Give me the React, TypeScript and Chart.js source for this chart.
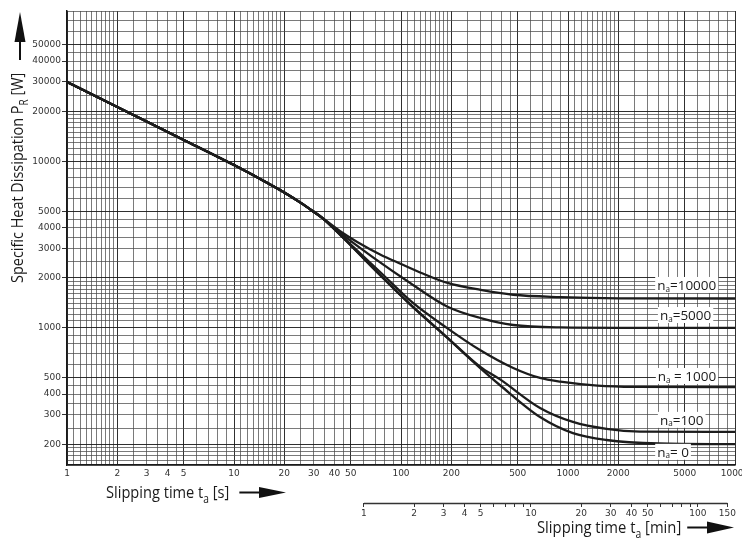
import React, { useEffect, useRef } from 'react';
import { Chart, registerables } from 'chart.js';

Chart.register(...registerables);

// ---- axis ranges and tick labels ----
const X_MIN = 1;
const X_MAX = 10000;
const Y_MIN = 150;
const Y_MAX = 80000;
const X_LABELS = [1, 2, 3, 4, 5, 10, 20, 30, 40, 50, 100, 200, 500, 1000, 2000, 5000, 10000];
const Y_LABELS = [200, 300, 400, 500, 1000, 2000, 3000, 4000, 5000, 10000, 20000, 30000, 40000, 50000];
const MIN_TICKS = [1, 2, 3, 4, 5, 6, 7, 8, 9, 10, 20, 30, 40, 50, 60, 70, 80, 90, 100, 150];
const MIN_LABELS = [1, 2, 3, 4, 5, 10, 20, 30, 40, 50, 100, 150];
const GRID_MANTISSA = [1, 1.1, 1.2, 1.3, 1.4, 1.5, 1.6, 1.7, 1.8, 1.9, 2, 2.5, 3, 3.5, 4, 4.5, 5, 6, 7, 8, 9];
const MAJOR_MANTISSA = [1, 2, 5];
const X_DECADES = [1, 10, 100, 1000, 10000];
const Y_DECADES = [100, 1000, 10000];

// ---- series (slipping time t [s], heat dissipation P [W]) ----
const COMMON_T = [1, 2, 5, 10, 15, 20, 25, 30, 34];
const COMMON_P = [30000, 21200, 13450, 9500, 7650, 6500, 5650, 4980, 4550];

const N10000_T = [43, 55, 75, 100, 135, 190, 300, 470, 900, 2000, 10000];
const N10000_P = [3820, 3270, 2760, 2420, 2120, 1860, 1690, 1580, 1530, 1505, 1500];

const N5000_T = [45, 68, 110, 190, 300, 470, 900, 2000, 10000];
const N5000_P = [3600, 2650, 1900, 1340, 1145, 1040, 1005, 1000, 1000];

const N1000_T = [45, 75, 118, 188, 297, 470, 680, 900, 1500, 2500, 10000];
const N1000_P = [3500, 2165, 1410, 1000, 736, 574, 500, 475, 450, 442, 440];

const N100_T = [45, 75, 118, 188, 297, 392, 680, 1070, 1700, 2700, 10000];
const N100_P = [3480, 2080, 1335, 880, 585, 490, 330, 272, 247, 238, 237];

const N0_T = [45, 75, 118, 188, 297, 392, 680, 1070, 1700, 3500, 10000];
const N0_P = [3480, 2070, 1330, 875, 575, 452, 291, 233, 212, 202, 200];

// ---- curve labels (anchor in data units) ----
const LABEL_TEXT = ['=10000', '=5000', ' = 1000', '=100', '= 0'];
const LABEL_T = [3420, 3550, 3450, 3550, 3420];
const LABEL_P = [1809, 1194, 514, 280, 180];

const SERIES = [
  { name: 'n=10000', t: N10000_T, p: N10000_P },
  { name: 'n=5000', t: N5000_T, p: N5000_P },
  { name: 'n=1000', t: N1000_T, p: N1000_P },
  { name: 'n=100', t: N100_T, p: N100_P },
  { name: 'n=0', t: N0_T, p: N0_P },
];

const TEXT_FAMILY = "'Open Sans', 'Noto Sans', sans-serif";
const TICK_FAMILY = "'DejaVu Sans', sans-serif";

function buildGrid(decades: number[], min: number, max: number) {
  const out: number[] = [];
  decades.forEach((d) => GRID_MANTISSA.forEach((m) => {
    const v = +(d * m).toPrecision(6);
    if (v >= min && v <= max) out.push(v);
  }));
  if (!out.includes(max)) out.push(max);
  if (!out.includes(min)) out.unshift(min);
  return out.sort((a, b) => a - b);
}

function isMajor(v: number) {
  const e = Math.floor(Math.log10(v) + 1e-9);
  const m = +(v / Math.pow(10, e)).toPrecision(4);
  return MAJOR_MANTISSA.includes(m);
}

const X_GRID = buildGrid(X_DECADES, X_MIN, X_MAX);
const Y_GRID = buildGrid(Y_DECADES, Y_MIN, Y_MAX);

type Part = { text: string; sub?: boolean };

function measureRich(ctx: CanvasRenderingContext2D, parts: Part[], size: number, subScale = 0.7) {
  let w = 0;
  for (const p of parts) {
    ctx.font = `${p.sub ? size * subScale : size}px ${TEXT_FAMILY}`;
    w += ctx.measureText(p.text).width;
  }
  return w;
}

function drawRich(
  ctx: CanvasRenderingContext2D, parts: Part[], x: number, y: number, size: number, sx: number,
  rot = 0, subScale = 0.7, subShift = 0.3,
) {
  ctx.save();
  ctx.translate(x, y);
  if (rot) ctx.rotate(rot);
  ctx.scale(sx, 1);
  ctx.textBaseline = 'alphabetic';
  ctx.textAlign = 'left';
  let cx = 0;
  for (const p of parts) {
    const fs = p.sub ? size * subScale : size;
    ctx.font = `${fs}px ${TEXT_FAMILY}`;
    ctx.fillText(p.text, cx, p.sub ? size * subShift : 0);
    cx += ctx.measureText(p.text).width;
  }
  ctx.restore();
  return cx * sx;
}

function arrowRight(ctx: CanvasRenderingContext2D, x0: number, x1: number, y: number, head: number, half: number) {
  ctx.save();
  ctx.strokeStyle = '#111';
  ctx.fillStyle = '#111';
  ctx.lineWidth = 2;
  ctx.beginPath();
  ctx.moveTo(x0, y);
  ctx.lineTo(x1 - head + 2, y);
  ctx.stroke();
  ctx.beginPath();
  ctx.moveTo(x1 - head, y - half);
  ctx.lineTo(x1, y);
  ctx.lineTo(x1 - head, y + half);
  ctx.closePath();
  ctx.fill();
  ctx.restore();
}

function arrowUp(ctx: CanvasRenderingContext2D, x: number, y0: number, y1: number, head: number, half: number) {
  ctx.save();
  ctx.strokeStyle = '#111';
  ctx.fillStyle = '#111';
  ctx.lineWidth = 2;
  ctx.beginPath();
  ctx.moveTo(x, y0);
  ctx.lineTo(x, y1 + head - 2);
  ctx.stroke();
  ctx.beginPath();
  ctx.moveTo(x - half, y1 + head);
  ctx.lineTo(x, y1);
  ctx.lineTo(x + half, y1 + head);
  ctx.closePath();
  ctx.fill();
  ctx.restore();
}

const annotations = {
  id: 'annotations',
  afterDatasetsDraw(chart: any) {
    const ctx: CanvasRenderingContext2D = chart.ctx;
    const xs = chart.scales.x;
    const ys = chart.scales.y;
    const size = 13.5;
    LABEL_TEXT.forEach((txt, i) => {
      const px = xs.getPixelForValue(LABEL_T[i]);
      const py = ys.getPixelForValue(LABEL_P[i]);
      const parts: Part[] = [{ text: 'n' }, { text: 'a', sub: true }, { text: txt }];
      const w = measureRich(ctx, parts, size, 0.6);
      ctx.save();
      ctx.fillStyle = '#fff';
      ctx.fillRect(px - 2, py - 8, w + 4, 16);
      ctx.fillStyle = '#1a1a1a';
      drawRich(ctx, parts, px, py + 5, size, 1, 0, 0.6, 0.12);
      ctx.restore();
    });
  },
  afterDraw(chart: any) {
    const ctx: CanvasRenderingContext2D = chart.ctx;
    const area = chart.chartArea;
    const xs = chart.scales.x;
    const xm = chart.scales.xm;

    // minutes axis line
    ctx.save();
    ctx.strokeStyle = '#333';
    ctx.lineWidth = 1.3;
    ctx.beginPath();
    ctx.moveTo(xm.getPixelForValue(1), Math.round(xm.top) + 0.5);
    ctx.lineTo(xm.getPixelForValue(150), Math.round(xm.top) + 0.5);
    ctx.stroke();
    ctx.restore();

    ctx.save();
    ctx.fillStyle = '#1a1a1a';
    // y title
    drawRich(
      ctx,
      [{ text: 'Specific Heat Dissipation P' }, { text: 'R', sub: true }, { text: ' [W]' }],
      23, 283, 17, 0.85, -Math.PI / 2,
    );
    arrowUp(ctx, 20, 60, 12, 30, 5.5);

    // seconds title
    const sEnd = drawRich(
      ctx,
      [{ text: 'Slipping time t' }, { text: 'a', sub: true }, { text: ' [s]' }],
      area.left + 39, xs.top + 33, 17, 0.86,
    );
    arrowRight(ctx, area.left + 39 + sEnd + 10, area.left + 219, xs.top + 27.5, 27, 5.5);

    // minutes title
    const mEnd = drawRich(
      ctx,
      [{ text: 'Slipping time t' }, { text: 'a', sub: true }, { text: ' [min]' }],
      537, xm.top + 30, 17, 0.87,
    );
    arrowRight(ctx, 537 + mEnd + 6, area.right - 1, xm.top + 24.5, 27, 6);
    ctx.restore();
  },
};

function gridColor(ctx: any) {
  const v = ctx.tick ? ctx.tick.value : 0;
  return isMajor(v) ? 'rgba(25,25,25,0.9)' : 'rgba(70,70,70,0.72)';
}

export default function App() {
  const ref = useRef<HTMLCanvasElement>(null);

  useEffect(() => {
    const canvas = ref.current;
    if (!canvas) return;
    const chart = new Chart(canvas, {
      type: 'line',
      data: {
        datasets: SERIES.map((s) => {
          const ts = [...COMMON_T, ...s.t];
          const ps = [...COMMON_P, ...s.p];
          return {
            label: s.name,
            data: ts.map((t, i) => ({ x: t, y: ps[i] })),
            borderColor: '#1c1c1c',
            borderWidth: 2.3,
            pointRadius: 0,
            fill: false,
            cubicInterpolationMode: 'monotone',
          };
        }),
      },
      options: {
        responsive: false,
        animation: false,
        devicePixelRatio: 1,
        events: [],
        layout: { padding: { left: 0, right: 7, top: 11, bottom: 0 } },
        plugins: {
          legend: { display: false },
          tooltip: { enabled: false },
          title: { display: false },
        },
        scales: {
          x: {
            type: 'logarithmic',
            position: 'bottom',
            weight: 0,
            min: X_MIN,
            max: X_MAX,
            afterBuildTicks: (s: any) => { s.ticks = X_GRID.map((v) => ({ value: v })); },
            afterFit: (s: any) => { s.height = 38; s.paddingLeft = 0; s.paddingRight = 0; },
            ticks: {
              autoSkip: false,
              maxRotation: 0,
              minRotation: 0,
              padding: 3,
              color: '#333',
              font: { family: TICK_FAMILY, size: 9 },
              callback: (v: any) => (X_LABELS.includes(Number(v)) ? String(v) : ''),
            },
            grid: { color: gridColor, lineWidth: 1, drawTicks: false },
            border: { display: true, color: '#1a1a1a', width: 1.5 },
          },
          xm: {
            type: 'logarithmic',
            position: 'bottom',
            weight: 1,
            min: X_MIN / 60,
            max: X_MAX / 60,
            afterBuildTicks: (s: any) => { s.ticks = MIN_TICKS.map((v) => ({ value: v })); },
            afterFit: (s: any) => { s.height = 40; s.paddingLeft = 0; s.paddingRight = 0; },
            ticks: {
              autoSkip: false,
              maxRotation: 0,
              minRotation: 0,
              padding: 1,
              color: '#333',
              font: { family: TICK_FAMILY, size: 9 },
              callback: (v: any) => (MIN_LABELS.includes(Number(v)) ? String(v) : ''),
            },
            grid: { drawOnChartArea: false, drawTicks: true, tickLength: 4, color: '#333', tickColor: '#333' },
            border: { display: false },
          },
          y: {
            type: 'logarithmic',
            position: 'left',
            min: Y_MIN,
            max: Y_MAX,
            afterBuildTicks: (s: any) => { s.ticks = Y_GRID.map((v) => ({ value: v })); },
            afterFit: (s: any) => { s.width = 67; s.paddingTop = 0; s.paddingBottom = 0; },
            ticks: {
              autoSkip: false,
              padding: 1,
              color: '#333',
              font: { family: TICK_FAMILY, size: 9 },
              callback: (v: any) => (Y_LABELS.includes(Number(v)) ? String(v) : ''),
            },
            grid: {
              color: gridColor,
              lineWidth: 1,
              drawTicks: true,
              tickLength: 5,
              tickColor: (c: any) => (c.tick && Y_LABELS.includes(c.tick.value) ? '#333' : 'rgba(0,0,0,0)'),
            },
            border: { display: true, color: '#1a1a1a', width: 1.5 },
          },
        },
      },
      plugins: [annotations],
    } as any);
    return () => chart.destroy();
  }, []);

  return (
    <div style={{ position: 'fixed', left: 0, top: 0, width: 742, height: 543, background: '#fff' }}>
      <canvas ref={ref} width={742} height={543} style={{ display: 'block' }} />
    </div>
  );
}
